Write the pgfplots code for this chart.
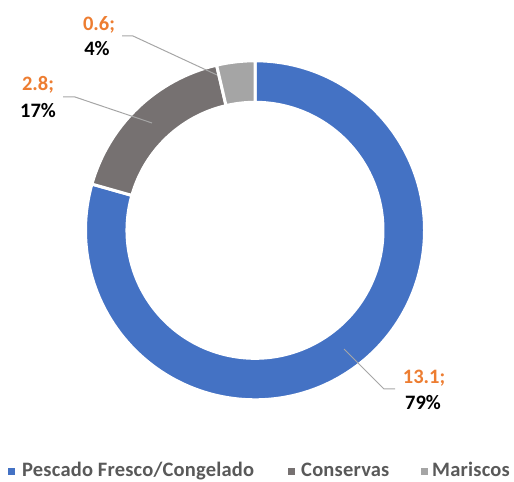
\documentclass[border=0pt]{standalone}
\usepackage{pgfplots}
\usepackage{pgfplotstable}
\pgfplotsset{compat=1.18}
\usetikzlibrary{calc}
\usepackage{fontspec}
\setmainfont{Carlito}
\definecolor{cBlue}{HTML}{4472C4}
\definecolor{cDark}{HTML}{767171}
\definecolor{cLight}{HTML}{A5A5A5}
\definecolor{cOrange}{HTML}{ED7D31}
\definecolor{cLeg}{HTML}{595959}
\definecolor{cLine}{HTML}{A6A6A6}
\newcommand\lf{\fontsize{20.5bp}{25bp}\selectfont\bfseries}
\newcommand\lgf{\fontsize{20.5bp}{25bp}\selectfont\bfseries\addfontfeatures{LetterSpace=1.0}}

\pgfplotstableread{
value pct
13.1 79
2.8 17
0.6 4
}\datatable

\newcommand\slice[3]{%
  \fill[#1, draw=white, line width=3bp]
    ($(axis cs:255,251.7)+(#2:169.5bp)$)
    arc[start angle=#2, end angle=#3, radius=169.5bp]
    -- ($(axis cs:255,251.7)+(#3:128bp)$)
    arc[start angle=#3, end angle=#2, radius=128bp] -- cycle;
}

\begin{document}
\begin{tikzpicture}
\pgfplotstablegetelem{0}{value}\of\datatable \let\vA\pgfplotsretval
\pgfplotstablegetelem{1}{value}\of\datatable \let\vB\pgfplotsretval
\pgfplotstablegetelem{2}{value}\of\datatable \let\vC\pgfplotsretval
\pgfplotstablegetelem{0}{pct}\of\datatable \let\pA\pgfplotsretval
\pgfplotstablegetelem{1}{pct}\of\datatable \let\pB\pgfplotsretval
\pgfplotstablegetelem{2}{pct}\of\datatable \let\pC\pgfplotsretval
\pgfmathsetmacro\tot{\vA+\vB+\vC}
\pgfmathsetmacro\aA{90}
\pgfmathsetmacro\aB{90-360*\vA/\tot}
\pgfmathsetmacro\aC{\aB-360*\vB/\tot}
\pgfmathsetmacro\aD{\aC-360*\vC/\tot}
\begin{axis}[
  x=1bp, y=1bp, xmin=0, xmax=514, ymin=0, ymax=482,
  scale only axis, hide axis, clip=false,
]
\slice{cBlue}{\aA}{\aB}
\slice{cDark}{\aB}{\aC}
\slice{cLight}{\aC}{\aD}

% leader lines
\draw[cLine, line width=1bp] (axis cs:344,133) -- (axis cs:384,93) -- (axis cs:395,93);
\draw[cLine, line width=1bp] (axis cs:152,359) -- (axis cs:75,385) -- (axis cs:63,385);
\draw[cLine, line width=1bp] (axis cs:217,407) -- (axis cs:133,446) -- (axis cs:122,446);

% data labels
\node[anchor=base, inner sep=0, text=cOrange, font=\lf] at (axis cs:424,98) {\vA;};
\node[anchor=base, inner sep=0, text=black, font=\lf] at (axis cs:423,72) {\pA\%};
\node[anchor=base, inner sep=0, text=cOrange, font=\lf] at (axis cs:38,391) {\vB;};
\node[anchor=base, inner sep=0, text=black, font=\lf] at (axis cs:38,364) {\pB\%};
\node[anchor=base, inner sep=0, text=cOrange, font=\lf] at (axis cs:99,451) {\vC;};
\node[anchor=base, inner sep=0, text=black, font=\lf] at (axis cs:97,426) {\pC\%};

% legend
\fill[cBlue] (axis cs:8,7) rectangle (axis cs:15,14.3);
\node[anchor=base west, inner sep=0, text=cLeg, font=\lgf] at (axis cs:22,5) {Pescado Fresco/Congelado};
\fill[cDark] (axis cs:287.5,7) rectangle (axis cs:294.5,14.3);
\node[anchor=base west, inner sep=0, text=cLeg, font=\lgf] at (axis cs:301,5) {Conservas};
\fill[cLight] (axis cs:421,7) rectangle (axis cs:428,14.3);
\node[anchor=base west, inner sep=0, text=cLeg, font=\lgf] at (axis cs:432,5) {Mariscos};
\end{axis}
\pgfresetboundingbox
\path[use as bounding box] (current axis.south west) rectangle (current axis.north east);
\end{tikzpicture}
\end{document}
